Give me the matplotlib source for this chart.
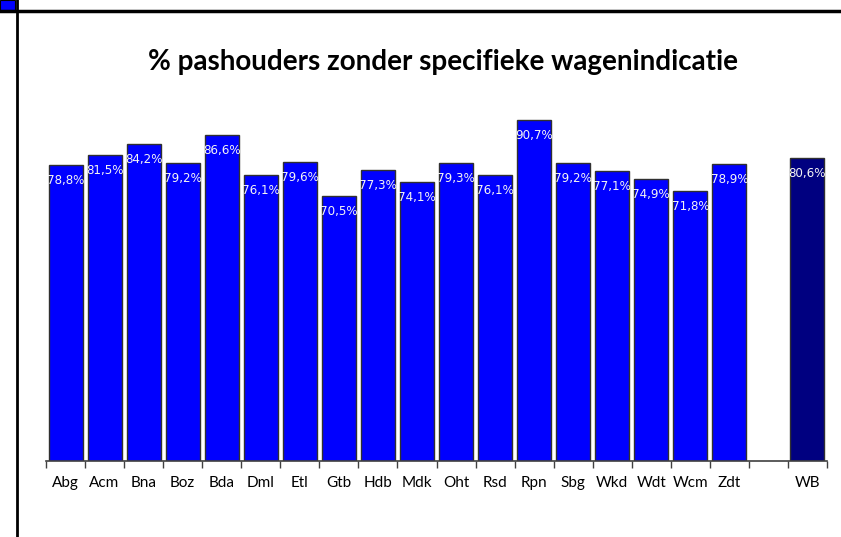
import matplotlib.pyplot as plt
from matplotlib.lines import Line2D
from matplotlib.patches import Rectangle

# gemeenten + totaal (WB)
gemeenten = ["Abg", "Acm", "Bna", "Boz", "Bda", "Dml", "Etl", "Gtb", "Hdb",
             "Mdk", "Oht", "Rsd", "Rpn", "Sbg", "Wkd", "Wdt", "Wcm", "Zdt"]
percentages = [78.8, 81.5, 84.2, 79.2, 86.6, 76.1, 79.6, 70.5, 77.3,
               74.1, 79.3, 76.1, 90.7, 79.2, 77.1, 74.9, 71.8, 78.9]
totaal_label = "WB"
totaal_waarde = 80.6

title = "% pashouders zonder specifieke wagenindicatie"

fig = plt.figure(figsize=(8.41, 5.37), dpi=100)
ax = fig.add_axes([46 / 841, 1 - 461 / 537, (827 - 46) / 841, (461 - 85) / 537])

x_gem = list(range(len(gemeenten)))
x_tot = len(gemeenten) + 1

ax.bar(x_gem, percentages, width=0.87, color="#0000ff", edgecolor="#303030", linewidth=1)
ax.bar([x_tot], [totaal_waarde], width=0.87, color="#000080", edgecolor="#303030", linewidth=1)

label_font = ["Liberation Sans Narrow", "DejaVu Sans Condensed"]
for x, v in zip(x_gem + [x_tot], percentages + [totaal_waarde]):
    ax.annotate(f"{v:.1f}%".replace(".", ","), (x, v), xytext=(0, -6.5),
                textcoords="offset points", ha="center", va="top",
                color="#f4f4f4", fontsize=8.6, family=label_font)

ax.set_xlim(-0.5, x_tot + 0.5)
ax.set_ylim(0, 100)

ax.set_xticks(x_gem + [x_tot])
ax.set_xticklabels(gemeenten + [totaal_label], family="Lato", fontsize=11)
ax.set_xticks([i - 0.5 for i in range(x_tot + 2)], minor=True)
ax.tick_params(axis="x", which="major", length=0, pad=11)
ax.tick_params(axis="x", which="minor", length=5, width=1, color="#404040", direction="out")
ax.set_yticks([])

for s in ["top", "right", "left"]:
    ax.spines[s].set_visible(False)
ax.spines["bottom"].set_color("#404040")
ax.spines["bottom"].set_linewidth(1.2)

fig.text(443 / 841, 1 - 62 / 537, title, ha="center", va="center",
         fontsize=20, fontweight="bold", family="Lato")

# kader van de dia
fig.add_artist(Line2D([0, 1], [1 - 11 / 537, 1 - 11 / 537], color="black", linewidth=2.5))
fig.add_artist(Line2D([17 / 841, 17 / 841], [0, 1], color="black", linewidth=2))
fig.add_artist(Rectangle((0, 1 - 10 / 537), 15 / 841, 10 / 537, facecolor="#0000ff",
                         edgecolor="black", linewidth=0.8))

fig.savefig("out.png")
